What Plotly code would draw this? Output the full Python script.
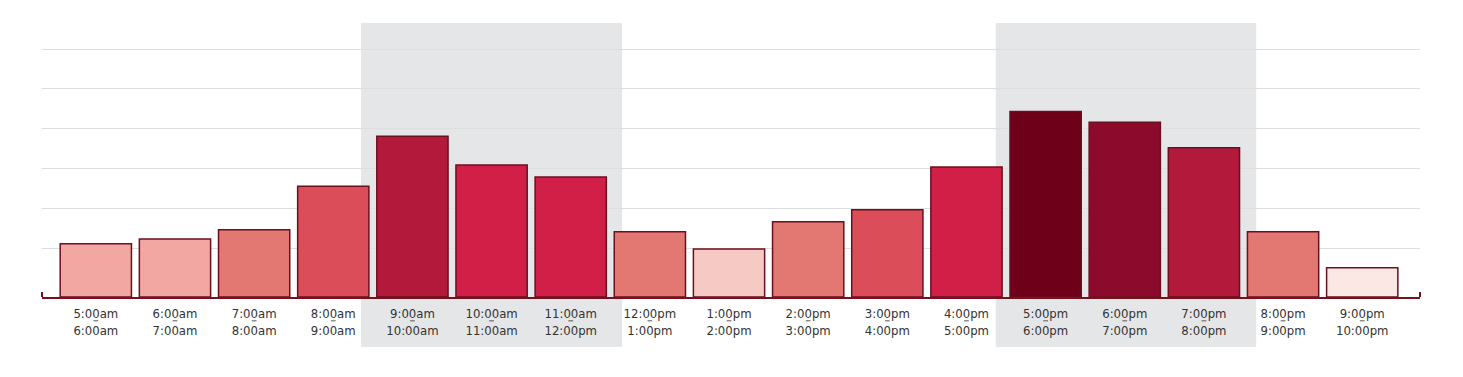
import plotly.graph_objects as go

start_times = ["5:00am", "6:00am", "7:00am", "8:00am", "9:00am", "10:00am", "11:00am",
               "12:00pm", "1:00pm", "2:00pm", "3:00pm", "4:00pm", "5:00pm", "6:00pm",
               "7:00pm", "8:00pm", "9:00pm"]
end_times = ["6:00am", "7:00am", "8:00am", "9:00am", "10:00am", "11:00am", "12:00pm",
             "1:00pm", "2:00pm", "3:00pm", "4:00pm", "5:00pm", "6:00pm", "7:00pm",
             "8:00pm", "9:00pm", "10:00pm"]
values = [13.3, 14.5, 16.8, 27.7, 40.2, 33.0, 30.0, 16.3, 12.0, 18.8, 21.8, 32.5,
          46.4, 43.7, 37.3, 16.3, 7.3]
bar_colors = ["#f2a7a2", "#f2a7a2", "#e37772", "#db4d59", "#b3193a", "#d21f48", "#d21f48",
              "#e37772", "#f7c9c4", "#e37772", "#db4d59", "#d21f48", "#6e001a", "#8c0a2c",
              "#b3193a", "#e37772", "#fbe8e5"]
grid_vals = [12.25, 22.25, 32.25, 42.25, 52.1, 62.0]
highlight_ranges = [(3.35, 6.65), (11.37, 14.66)]

x = list(range(len(values)))
ticktext = [f"{a}<br>{b}" for a, b in zip(start_times, end_times)]
FONT = "Liberation Sans Narrow, DejaVu Sans Condensed, Arial Narrow, sans-serif"

fig = go.Figure()
fig.add_trace(go.Bar(
    x=x, y=values,
    marker=dict(color=bar_colors, line=dict(color="#6b0f1f", width=1.5)),
    hoverinfo="skip",
))

shapes = []
for x0, x1 in highlight_ranges:
    shapes.append(dict(type="rect", xref="x", yref="paper", x0=x0, x1=x1, y0=-0.1825, y1=1.0,
                       fillcolor="#e5e6e8", line=dict(width=0), layer="below"))
# axis end caps
for xp in (0, 1):
    shapes.append(dict(type="line", xref="paper", yref="paper", x0=xp, x1=xp, y0=0, y1=0.018,
                       line=dict(color="#7a0f1e", width=2)))
# small dash between the two time lines of each label
for i in x:
    shapes.append(dict(type="line", xref="x", yref="paper", x0=i - 0.03, x1=i + 0.03,
                       y0=-0.087, y1=-0.087, line=dict(color="#555555", width=1)))

fig.update_layout(
    width=1447, height=361,
    margin=dict(l=34, r=35, t=15, b=72),
    paper_bgcolor="white", plot_bgcolor="rgba(0,0,0,0)",
    bargap=0.1,
    showlegend=False,
    shapes=shapes,
    xaxis=dict(
        range=[-0.68, 16.73], tickvals=x, ticktext=ticktext,
        showgrid=False, zeroline=False, showline=True, linecolor="#7a0f1e", linewidth=2,
        ticks="", ticklabelstandoff=3,
        tickfont=dict(size=13, color="#333333", family=FONT),
        fixedrange=True,
    ),
    yaxis=dict(
        range=[0, 68.5], tickvals=grid_vals, showticklabels=False,
        showgrid=True, gridcolor="#dedede", gridwidth=1, zeroline=False, showline=False,
        fixedrange=True,
    ),
)

fig.write_html("out.html")
